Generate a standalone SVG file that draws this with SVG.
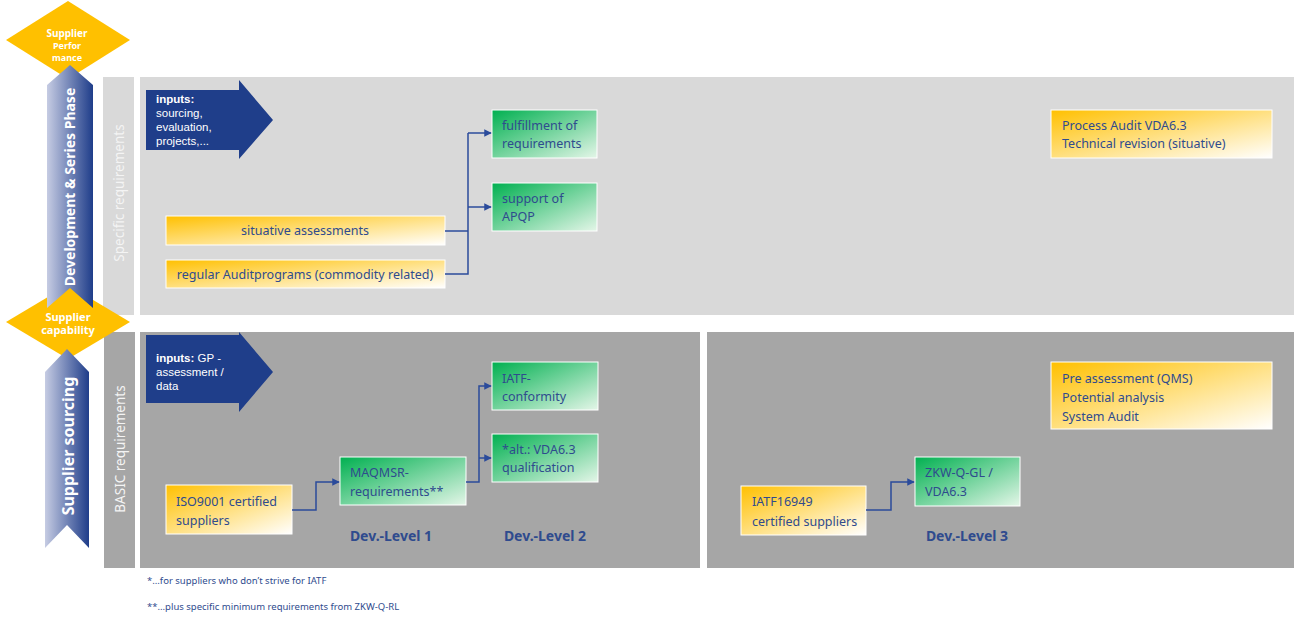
<svg xmlns="http://www.w3.org/2000/svg" width="1294" height="617" viewBox="0 0 1294 617">
<defs>
<linearGradient id="gY" x1="0" y1="0" x2="1" y2="1"><stop offset="0" stop-color="#ffc000"/><stop offset="1" stop-color="#ffffff"/></linearGradient>
<linearGradient id="gG" x1="0" y1="0" x2="1" y2="1"><stop offset="0" stop-color="#00b050"/><stop offset="1" stop-color="#e4f6e8"/></linearGradient>
<linearGradient id="gB" x1="0" y1="0" x2="1" y2="0"><stop offset="0" stop-color="#c6cce3"/><stop offset="1" stop-color="#1f3d8a"/></linearGradient>
<marker id="ah" viewBox="0 0 10 10" refX="9" refY="5" markerWidth="5" markerHeight="5" orient="auto" markerUnits="strokeWidth"><path d="M0,0 L10,5 L0,10 z" fill="#2b4b9b"/></marker>
<style>
.t{font-family:"Noto Sans","Liberation Sans",sans-serif;font-size:12.5px;fill:#2f4b8e}
.tw{font-family:"Liberation Sans","Noto Sans",sans-serif;font-size:11.5px;fill:#ffffff}
.lvl{font-family:"Noto Sans","Liberation Sans",sans-serif;font-size:14px;font-weight:bold;fill:#2f4b8e}
.fn{font-family:"Noto Sans","Liberation Sans",sans-serif;font-size:9.5px;fill:#2f4b8e}
.dm{font-family:"Noto Sans","Liberation Sans",sans-serif;font-weight:bold;fill:#ffffff;text-anchor:middle}
.yb{fill:url(#gY);stroke:#ffffff;stroke-width:1}
.gb{fill:url(#gG);stroke:#ffffff;stroke-width:1}
.cn{fill:none;stroke:#2b4b9b;stroke-width:1.5}
.strip{font-family:"Noto Sans","Liberation Sans",sans-serif;font-size:13.5px;fill:#f4f4f4;text-anchor:middle}
</style>
</defs>
<rect width="1294" height="617" fill="#ffffff"/>

<g id="panels">
<rect x="103" y="77" width="31" height="238" fill="#d9d9d9"/>
<rect x="140" y="77" width="1154" height="238" fill="#d9d9d9"/>
<rect x="104" y="332" width="31" height="236" fill="#a6a6a6"/>
<rect x="140" y="332" width="560" height="236" fill="#a6a6a6"/>
<rect x="707" y="332" width="587" height="236" fill="#a6a6a6"/>
<text class="strip" transform="translate(124,193) rotate(-90)">Specific  requirements</text>
<text class="strip" transform="translate(125,449) rotate(-90)">BASIC requirements</text>
</g>

<g id="supplier-performance">
<polygon points="68,1 130,40 68,79 6,40" fill="#ffc000"/>
</g>
<g id="supplier-capability">
<polygon points="68,285 130,322 68,359 6,322" fill="#ffc000"/>
</g>

<g id="dev-series-phase">
<polygon points="47,85 70,65 93,85 93,308 70,288 47,308" fill="url(#gB)"/>
<text class="dm" style="font-size:14px" transform="translate(75,187) rotate(-90)">Development &amp; Series Phase</text>
</g>
<g id="supplier-sourcing">
<polygon points="45,372 67,349 89,372 89,548 67,525 45,548" fill="url(#gB)"/>
<text class="dm" style="font-size:16px" transform="translate(74,446) rotate(-90)">Supplier sourcing</text>
</g>

<g id="diamond-labels">
<text class="dm" style="font-size:10px" x="67" y="37">Supplier</text>
<text class="dm" style="font-size:9px" x="67" y="49">Perfor</text>
<text class="dm" style="font-size:9px" x="67" y="61">mance</text>
<text class="dm" style="font-size:11px" x="68" y="321">Supplier</text>
<text class="dm" style="font-size:11px" x="68" y="334">capability</text>
</g>

<g id="inputs-top">
<polygon points="146,90 239,90 239,80 273,120 239,159 239,150 146,150" fill="#1f3e8a"/>
<text class="tw" x="156" y="103" font-weight="bold">inputs:</text>
<text class="tw" x="156" y="117">sourcing,</text>
<text class="tw" x="156" y="131">evaluation,</text>
<text class="tw" x="156" y="145">projects,...</text>
</g>
<g id="inputs-bottom">
<polygon points="146,335 239,335 239,332 273,372 239,412 239,403 146,403" fill="#1f3e8a"/>
<text class="tw" x="156" y="362"><tspan font-weight="bold">inputs:</tspan> GP -</text>
<text class="tw" x="156" y="376">assessment /</text>
<text class="tw" x="156" y="390">data</text>
</g>

<g id="situative">
<rect class="yb" x="166" y="216" width="279" height="29"/>
<text class="t" x="305" y="235" text-anchor="middle">situative assessments</text>
</g>
<g id="regular-audit">
<rect class="yb" x="166" y="260" width="279" height="28"/>
<text class="t" x="305" y="279" text-anchor="middle">regular Auditprograms (commodity related)</text>
</g>
<g id="fulfillment">
<rect class="gb" x="492" y="110" width="105" height="48"/>
<text class="t" x="502" y="130">fulfillment of</text>
<text class="t" x="502" y="148">requirements</text>
</g>
<g id="apqp">
<rect class="gb" x="492" y="183" width="105" height="48"/>
<text class="t" x="502" y="203">support of</text>
<text class="t" x="502" y="221">APQP</text>
</g>
<g id="process-audit">
<rect class="yb" x="1051" y="110" width="221" height="48"/>
<text class="t" x="1062" y="130">Process Audit VDA6.3</text>
<text class="t" x="1062" y="148">Technical revision (situative)</text>
</g>

<g id="iso9001">
<rect class="yb" x="166" y="485" width="126" height="49"/>
<text class="t" x="176" y="506">ISO9001 certified</text>
<text class="t" x="176" y="525">suppliers</text>
</g>
<g id="maqmsr">
<rect class="gb" x="340" y="457" width="126" height="48"/>
<text class="t" x="350" y="477">MAQMSR-</text>
<text class="t" x="350" y="496">requirements**</text>
</g>
<g id="iatf-conformity">
<rect class="gb" x="492" y="362" width="106" height="48"/>
<text class="t" x="502" y="383">IATF-</text>
<text class="t" x="502" y="401">conformity</text>
</g>
<g id="vda-qualification">
<rect class="gb" x="492" y="434" width="106" height="48"/>
<text class="t" x="502" y="454">*alt.: VDA6.3</text>
<text class="t" x="502" y="472">qualification</text>
</g>
<g id="pre-assessment">
<rect class="yb" x="1051" y="362" width="221" height="67"/>
<text class="t" x="1062" y="383">Pre assessment (QMS)</text>
<text class="t" x="1062" y="402">Potential analysis</text>
<text class="t" x="1062" y="421">System Audit</text>
</g>
<g id="iatf16949">
<rect class="yb" x="741" y="486" width="125" height="49"/>
<text class="t" x="752" y="506">IATF16949</text>
<text class="t" x="752" y="526">certified suppliers</text>
</g>
<g id="zkw-q-gl">
<rect class="gb" x="915" y="457" width="105" height="49"/>
<text class="t" x="925" y="477">ZKW-Q-GL /</text>
<text class="t" x="925" y="496">VDA6.3</text>
</g>

<g id="levels">
<text class="lvl" x="391" y="541" text-anchor="middle">Dev.-Level 1</text>
<text class="lvl" x="545" y="541" text-anchor="middle">Dev.-Level 2</text>
<text class="lvl" x="967" y="541" text-anchor="middle">Dev.-Level 3</text>
</g>

<g id="connectors">
<path class="cn" d="M445,231 H468"/>
<path class="cn" d="M445,274 H468 V133"/>
<path class="cn" d="M468,133 H491" marker-end="url(#ah)"/>
<path class="cn" d="M468,207 H491" marker-end="url(#ah)"/>
<path class="cn" d="M292,510 H316 V482 H339" marker-end="url(#ah)"/>
<path class="cn" d="M466,482 H479 V386 H491" marker-end="url(#ah)"/>
<path class="cn" d="M479,458 H491" marker-end="url(#ah)"/>
<path class="cn" d="M866,510 H891 V482 H914" marker-end="url(#ah)"/>
</g>

<g id="footnotes">
<text class="fn" x="147" y="584">*...for suppliers who don’t strive for IATF</text>
<text class="fn" x="147" y="610">**...plus specific minimum requirements from ZKW-Q-RL</text>
</g>
</svg>
